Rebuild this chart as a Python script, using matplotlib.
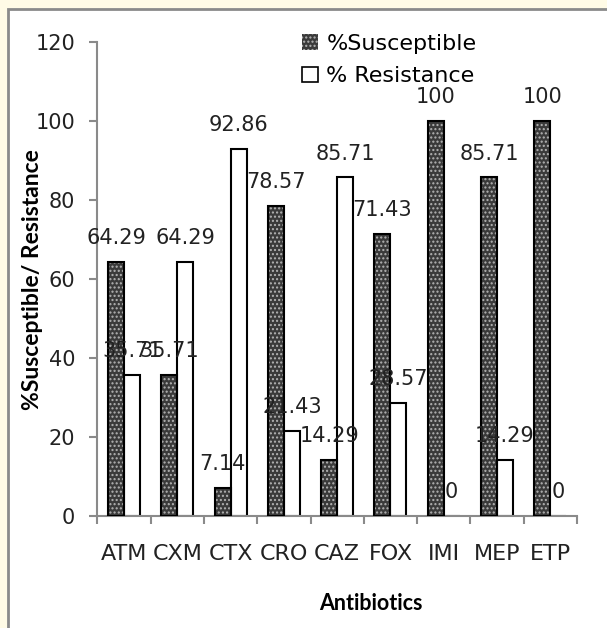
import matplotlib
matplotlib.use("Agg")
import matplotlib.pyplot as plt
from matplotlib.patches import Rectangle, Patch
import numpy as np

categories = ["ATM", "CXM", "CTX", "CRO", "CAZ", "FOX", "IMI", "MEP", "ETP"]
susceptible = [64.29, 35.71, 7.14, 78.57, 14.29, 71.43, 100, 85.71, 100]
resistance = [35.71, 64.29, 92.86, 21.43, 85.71, 28.57, 0, 14.29, 0]
sus_labels = ["64.29", "35.71", "7.14", "78.57", "14.29", "71.43", "100", "85.71", "100"]
res_labels = ["35.71", "64.29", "92.86", "21.43", "85.71", "28.57", "0", "14.29", "0"]
yticks = [0, 20, 40, 60, 80, 100, 120]

W, H = 607, 628
fig = plt.figure(figsize=(W / 100, H / 100), dpi=100)
fig.patch.set_facecolor("#fffbe6")

# white chart frame
frame = Rectangle((8 / W, -0.1), 1.2, (H - 9) / H + 0.1, transform=fig.transFigure,
                  facecolor="white", edgecolor="#8a8a8a", linewidth=2, zorder=-10)
fig.patches.append(frame)

ax = fig.add_axes([97.3 / W, (H - 516) / H, (577 - 97.3) / W, (516 - 42) / H])
ax.set_facecolor("none")
ax.set_zorder(5)

plt.rcParams["hatch.linewidth"] = 1.0
x = np.arange(len(categories))
bw = 0.3
# susceptible: dark stipple
ax.bar(x - bw / 2, susceptible, bw, color="#3a3a3a", edgecolor="#b4b4b4", hatch="....",
       linewidth=0, zorder=2)
ax.bar(x - bw / 2, susceptible, bw, facecolor="none", edgecolor="black", linewidth=1.5, zorder=3)
# resistance: white
ax.bar(x + bw / 2, resistance, bw, color="white", edgecolor="black", linewidth=1.5, zorder=2)

for i in range(len(categories)):
    ax.annotate(sus_labels[i], (x[i] - bw / 2, susceptible[i]), xytext=(0, 10),
                textcoords="offset points", ha="center", va="bottom", fontsize=15,
                color="#222222", zorder=5)
    ax.annotate(res_labels[i], (x[i] + bw / 2, resistance[i]), xytext=(0, 10),
                textcoords="offset points", ha="center", va="bottom", fontsize=15,
                color="#222222", zorder=5)

ax.set_xlim(-0.5, len(categories) - 0.5)
ax.set_ylim(0, 120)
ax.set_yticks(yticks)
ax.set_yticklabels([str(v) for v in yticks], fontsize=15, color="#222222")
ax.set_xticks(np.arange(len(categories) + 1) - 0.5)
ax.set_xticklabels([])
ax.set_xticks(x, minor=True)
ax.set_xticklabels(categories, minor=True, fontsize=16, color="#222222")
ax.tick_params(axis="x", which="minor", length=0, pad=20)
ax.tick_params(axis="x", which="major", length=6, width=1.5, color="#8a8a8a", direction="out")
ax.tick_params(axis="y", length=6, width=1.5, color="#8a8a8a", direction="out", pad=10)
for s in ["top", "right"]:
    ax.spines[s].set_visible(False)
for s in ["left", "bottom"]:
    ax.spines[s].set_color("#8a8a8a")
    ax.spines[s].set_linewidth(1.5)

fig.text(33 / W, 1 - 280 / H, "%Susceptible/ Resistance", rotation=90, ha="center",
         va="center", fontsize=16.5, fontweight="bold", family="Lato")
fig.text(371 / W, 1 - 603 / H, "Antibiotics", ha="center", va="center", fontsize=15.5,
         fontweight="bold", family="Lato")

h1 = Patch(facecolor="#3a3a3a", edgecolor="#b4b4b4", hatch="....", linewidth=0)
h2 = Patch(facecolor="white", edgecolor="black", linewidth=1.2)
leg = ax.legend([h1, h2], ["%Susceptible", "% Resistance"], loc="center left",
                bbox_to_anchor=(282 / W, 1 - 60 / H), bbox_transform=fig.transFigure,
                frameon=False, fontsize=16, handlelength=0.7, handleheight=0.7,
                handletextpad=0.4, labelspacing=0.55)

fig.savefig("out.png", dpi=100, facecolor=fig.get_facecolor())
